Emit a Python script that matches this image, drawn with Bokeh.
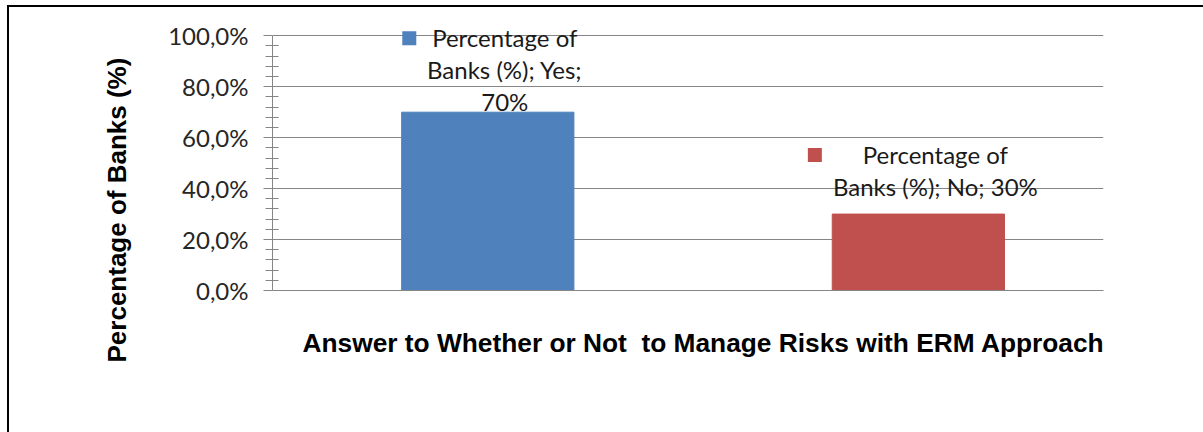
from bokeh.plotting import figure
from bokeh.models import Range1d, FixedTicker, ColumnDataSource, Title
from bokeh.core.properties import value
from bokeh.embed import file_html
from bokeh.resources import INLINE

# ---- data ----
categories = ["Yes", "No"]
percentages = [70, 30]
bar_colors = ["#4F81BD", "#C0504D"]
label_lines = [
    ["Percentage of", "Banks (%); Yes;", "70%"],
    ["Percentage of", "Banks (%); No; 30%"],
]
y_ticks = [0, 20, 40, 60, 80, 100]
y_tick_labels = ["0,0%", "20,0%", "40,0%", "60,0%", "80,0%", "100,0%"]
y_minor_ticks = [4, 8, 12, 16, 24, 28, 32, 36, 44, 48, 52, 56, 64, 68, 72, 76, 84, 88, 92, 96]
x_title = "Answer to Whether or Not\u00a0 to Manage Risks with ERM Approach"
y_title = "Percentage of Banks (%)"

# ---- layout constants ----
FRAME_W, FRAME_H = 831, 270
Y_END = 106
X_START, X_END = 0.5, 2.43
px_per_x = FRAME_W / (X_END - X_START)
px_per_y = FRAME_H / Y_END
LINE_SP = 32
BASE_FIX = 9                   # compensation for svg alphabetic baseline
label_gap = [2, 19]            # px between last baseline and bar top
key_dx_px = [-78.5, -103.5]    # key square offset from bar centre
TEXT_DX = 17
GRID = "#868686"

p = figure(frame_width=FRAME_W, frame_height=FRAME_H,
           min_border_left=263, min_border_right=100,
           min_border_top=13, min_border_bottom=142,
           x_range=Range1d(X_START, X_END), y_range=Range1d(0, Y_END),
           output_backend="svg", toolbar_location=None)
p.styles = {"margin-left": "7px", "margin-top": "5px",
            "border-top": "2px solid #000000", "border-left": "2px solid #000000"}
p.outline_line_color = None
p.background_fill_color = "white"
p.border_fill_color = "white"

xs = [i + 1 for i in range(len(categories))]
bars = ColumnDataSource(dict(x=xs, top=percentages, color=bar_colors, cat=categories))
p.vbar(x="x", top="top", width=0.4, color="color", source=bars)

# data labels
lx, ly, lt, lyo = [], [], [], []
for i, lines in enumerate(label_lines):
    n = len(lines)
    for j, line in enumerate(lines):
        lx.append(xs[i]); ly.append(percentages[i]); lt.append(line)
        lyo.append(-(label_gap[i] + (n - 1 - j) * LINE_SP) - BASE_FIX)
p.text(x="x", y="y", text="t", y_offset="yo", source=ColumnDataSource(dict(x=lx, y=ly, t=lt, yo=lyo)),
       x_offset=TEXT_DX, text_align="center", text_baseline="alphabetic",
       text_font=value("Lato"), text_font_size="24px", text_color="#1A1A1A")

# legend keys in labels
kx = [xs[i] + key_dx_px[i] / px_per_x for i in range(len(xs))]
ky = [percentages[i] + (label_gap[i] + (len(label_lines[i]) - 1) * LINE_SP + 8) / px_per_y for i in range(len(xs))]
p.scatter(x=kx, y=ky, marker="square", size=14, color=bar_colors, line_color=None)

# y axis
yax = p.yaxis[0]
yax.ticker = FixedTicker(ticks=y_ticks, minor_ticks=y_minor_ticks)
yax.major_label_overrides = {t: l for t, l in zip(y_ticks, y_tick_labels)}
yax.bounds = (0, 100)
yax.axis_line_color = GRID
yax.major_tick_line_color = GRID
yax.minor_tick_line_color = GRID
yax.major_tick_in = 0
yax.major_tick_out = 9
yax.minor_tick_in = 6
yax.minor_tick_out = 7
yax.major_label_standoff = 15
yax.major_label_text_font = "Lato"
yax.major_label_text_font_size = "24px"
yax.major_label_text_color = "#262626"

# x axis: line only
xax = p.xaxis[0]
xax.ticker = FixedTicker(ticks=[])
xax.axis_line_color = GRID
xax.major_tick_line_color = None
xax.minor_tick_line_color = None
xax.major_tick_out = 0
xax.major_label_standoff = 0
xax.major_label_text_font_size = "0px"

p.xgrid.grid_line_color = None
p.ygrid.grid_line_color = GRID
p.ygrid.grid_line_width = 1

# axis titles
p.add_layout(Title(text=x_title, align="left", offset=30, standoff=70,
                   text_font="Liberation Sans", text_font_style="bold",
                   text_font_size="26.3px", text_color="#000000"), "below")
p.add_layout(Title(text=y_title, align="left", offset=-72, standoff=67,
                   text_font="Liberation Sans", text_font_style="bold",
                   text_font_size="26px", text_color="#000000"), "left")

open("out.html", "w").write(file_html(p, INLINE))
